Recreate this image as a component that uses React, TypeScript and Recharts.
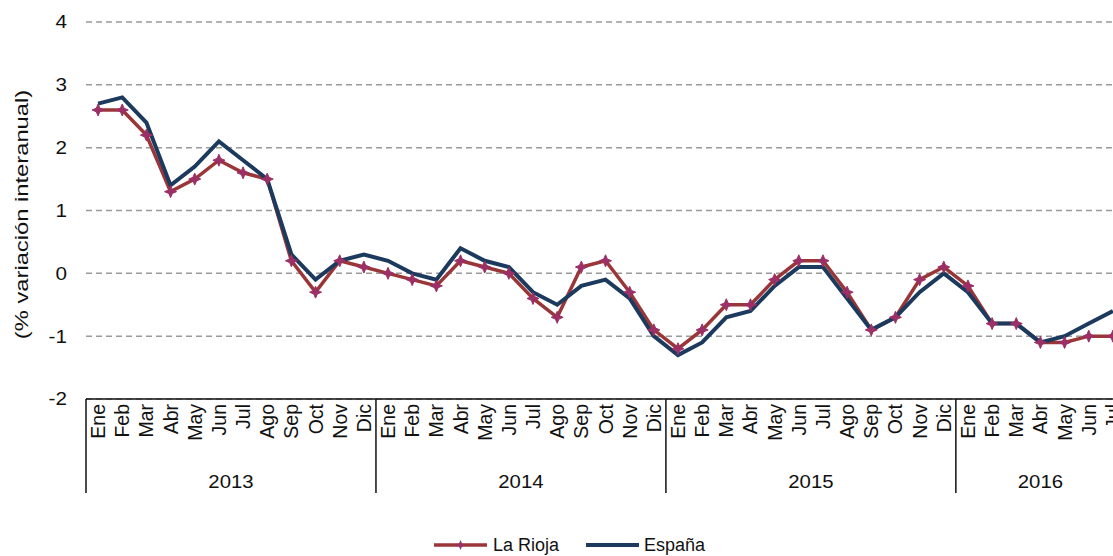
import React from 'react';
import { LineChart, Line, XAxis, YAxis, CartesianGrid, Legend } from 'recharts';

const monthNames = ['Ene', 'Feb', 'Mar', 'Abr', 'May', 'Jun', 'Jul', 'Ago', 'Sep', 'Oct', 'Nov', 'Dic'];
const years = ['2013', '2014', '2015', '2016'];
const yearCounts = [12, 12, 12, 7];

const laRioja = [
  2.6, 2.6, 2.2, 1.3, 1.5, 1.8, 1.6, 1.5, 0.2, -0.3, 0.2, 0.1,
  0.0, -0.1, -0.2, 0.2, 0.1, 0.0, -0.4, -0.7, 0.1, 0.2, -0.3, -0.9,
  -1.2, -0.9, -0.5, -0.5, -0.1, 0.2, 0.2, -0.3, -0.9, -0.7, -0.1, 0.1,
  -0.2, -0.8, -0.8, -1.1, -1.1, -1.0, -1.0,
];
const espana = [
  2.7, 2.8, 2.4, 1.4, 1.7, 2.1, 1.8, 1.5, 0.3, -0.1, 0.2, 0.3,
  0.2, 0.0, -0.1, 0.4, 0.2, 0.1, -0.3, -0.5, -0.2, -0.1, -0.4, -1.0,
  -1.3, -1.1, -0.7, -0.6, -0.2, 0.1, 0.1, -0.4, -0.9, -0.7, -0.3, 0.0,
  -0.3, -0.8, -0.8, -1.1, -1.0, -0.8, -0.6,
];
const yTicks = [-2, -1, 0, 1, 2, 3, 4];

const RED = '#9a3538';
const MARK = '#9b2f66';
const NAVY = '#1c3a5e';
const FONT = '"Liberation Sans", Arial, Helvetica, sans-serif';

// build table
const monthLabels: string[] = [];
const yearStarts: number[] = [];
years.forEach((y, i) => {
  yearStarts.push(monthLabels.length);
  for (let m = 0; m < yearCounts[i]; m++) monthLabels.push(monthNames[m]);
});
const data = monthLabels.map((m, i) => ({ idx: i, month: m, rioja: laRioja[i], espana: espana[i] }));
const n = monthLabels.length;
const separators = [...yearStarts.map((s) => s - 0.5), n - 0.5];
const yearCenters = yearStarts.map((s, i) => s + (yearCounts[i] - 1) / 2);
const xTicks = Array.from(new Set([...data.map((d) => d.idx), ...separators, ...yearCenters])).sort((a, b) => a - b);

const XTick = (props: any) => {
  const { x, y, payload } = props;
  const v = payload.value as number;
  const parts: React.ReactNode[] = [];
  if (Number.isInteger(v) && v >= 0 && v < n) {
    parts.push(
      <text
        key="m"
        transform={`translate(${x},${y + 5}) rotate(-90)`}
        textAnchor="end"
        dominantBaseline="central"
        fontSize={19.5}
        fontFamily={FONT}
        fill="#111"
      >
        {monthLabels[v]}
      </text>
    );
  }
  if (separators.includes(v)) {
    parts.push(<line key="s" x1={x} x2={x} y1={y} y2={y + 94} stroke="#111" strokeWidth={1.5} />);
  }
  const yi = yearCenters.indexOf(v);
  if (yi >= 0) {
    parts.push(
      <text
        key="y"
        transform={`translate(${x},${y + 89}) scale(1.1,1)`}
        textAnchor="middle"
        fontSize={18.5}
        fontFamily={FONT}
        fill="#111"
      >
        {years[yi]}
      </text>
    );
  }
  return <g>{parts}</g>;
};

const YTick = (props: any) => {
  const { x, y, payload } = props;
  return (
    <text
      transform={`translate(${x - 19},${y}) scale(1.15,1)`}
      textAnchor="end"
      dominantBaseline="central"
      fontSize={18}
      fontFamily={FONT}
      fill="#111"
    >
      {payload.value}
    </text>
  );
};

const YLabel = (props: any) => {
  const vb = props.viewBox || { x: 0, y: 0, width: 86, height: 0 };
  const cx = vb.x + 22;
  const cy = vb.y + vb.height / 2 + 4;
  return (
    <text
      transform={`translate(${cx},${cy}) rotate(-90) scale(1.25,1)`}
      textAnchor="middle"
      dominantBaseline="central"
      fontSize={19}
      fontFamily={FONT}
      fill="#111"
    >
      (% variación interanual)
    </text>
  );
};

const starPath = (cx: number, cy: number, r: number) => {
  const s = r * 0.3;
  return `M${cx},${cy - r} L${cx + s},${cy - s} L${cx + r},${cy} L${cx + s},${cy + s} L${cx},${cy + r} L${cx - s},${cy + s} L${cx - r},${cy} L${cx - s},${cy - s} Z`;
};

const StarDot = (props: any) => {
  const { cx, cy } = props;
  if (cx == null || cy == null) return <g />;
  return <path d={starPath(cx, cy, 6)} fill={MARK} stroke={MARK} strokeWidth={1} />;
};

const LegendContent = () => (
  <div style={{ height: 22, width: 1113, display: 'flex', alignItems: 'center', fontFamily: FONT, fontSize: 18, color: '#111' }}>
    <svg width={53} height={22} style={{ marginLeft: 434 }}>
      <line x1={0} x2={53} y1={11} y2={11} stroke={RED} strokeWidth={3.5} />
      <path d={starPath(26.5, 11, 5)} fill={MARK} />
    </svg>
    <span style={{ marginLeft: 6 }}>La Rioja</span>
    <svg width={53} height={22} style={{ marginLeft: 27 }}>
      <line x1={0} x2={53} y1={11} y2={11} stroke={NAVY} strokeWidth={4} />
    </svg>
    <span style={{ marginLeft: 5 }}>España</span>
  </div>
);

export default function App() {
  return (
    <div style={{ position: 'absolute', left: 0, top: 0, width: 1113, height: 556, overflow: 'hidden', background: '#fff' }}>
      <LineChart width={1130} height={556} data={data} margin={{ top: 22, right: 5, left: 0, bottom: 35 }}>
        <CartesianGrid horizontal vertical={false} stroke="#9a9a9a" strokeDasharray="6 4" strokeWidth={1.5} />
        <XAxis
          dataKey="idx"
          type="number"
          domain={[-0.5, n - 0.5]}
          ticks={xTicks}
          interval={0}
          tick={<XTick />}
          tickLine={false}
          tickSize={0}
          tickMargin={0}
          axisLine={{ stroke: '#111', strokeWidth: 1.5 }}
          height={100}
          allowDecimals
        />
        <YAxis
          type="number"
          domain={[-2, 4]}
          ticks={yTicks}
          interval={0}
          width={86}
          axisLine={false}
          tickLine={false}
          tickSize={0}
          tickMargin={0}
          tick={<YTick />}
          label={<YLabel />}
        />
        <Legend verticalAlign="bottom" content={<LegendContent />} wrapperStyle={{ left: 0, bottom: 0, width: 1113 }} />
        <Line dataKey="rioja" stroke={RED} strokeWidth={3.5} dot={false} isAnimationActive={false} legendType="none" />
        <Line dataKey="espana" stroke={NAVY} strokeWidth={4} dot={false} isAnimationActive={false} />
        <Line dataKey="rioja" stroke="none" dot={<StarDot />} activeDot={false} isAnimationActive={false} legendType="none" />
      </LineChart>
    </div>
  );
}
